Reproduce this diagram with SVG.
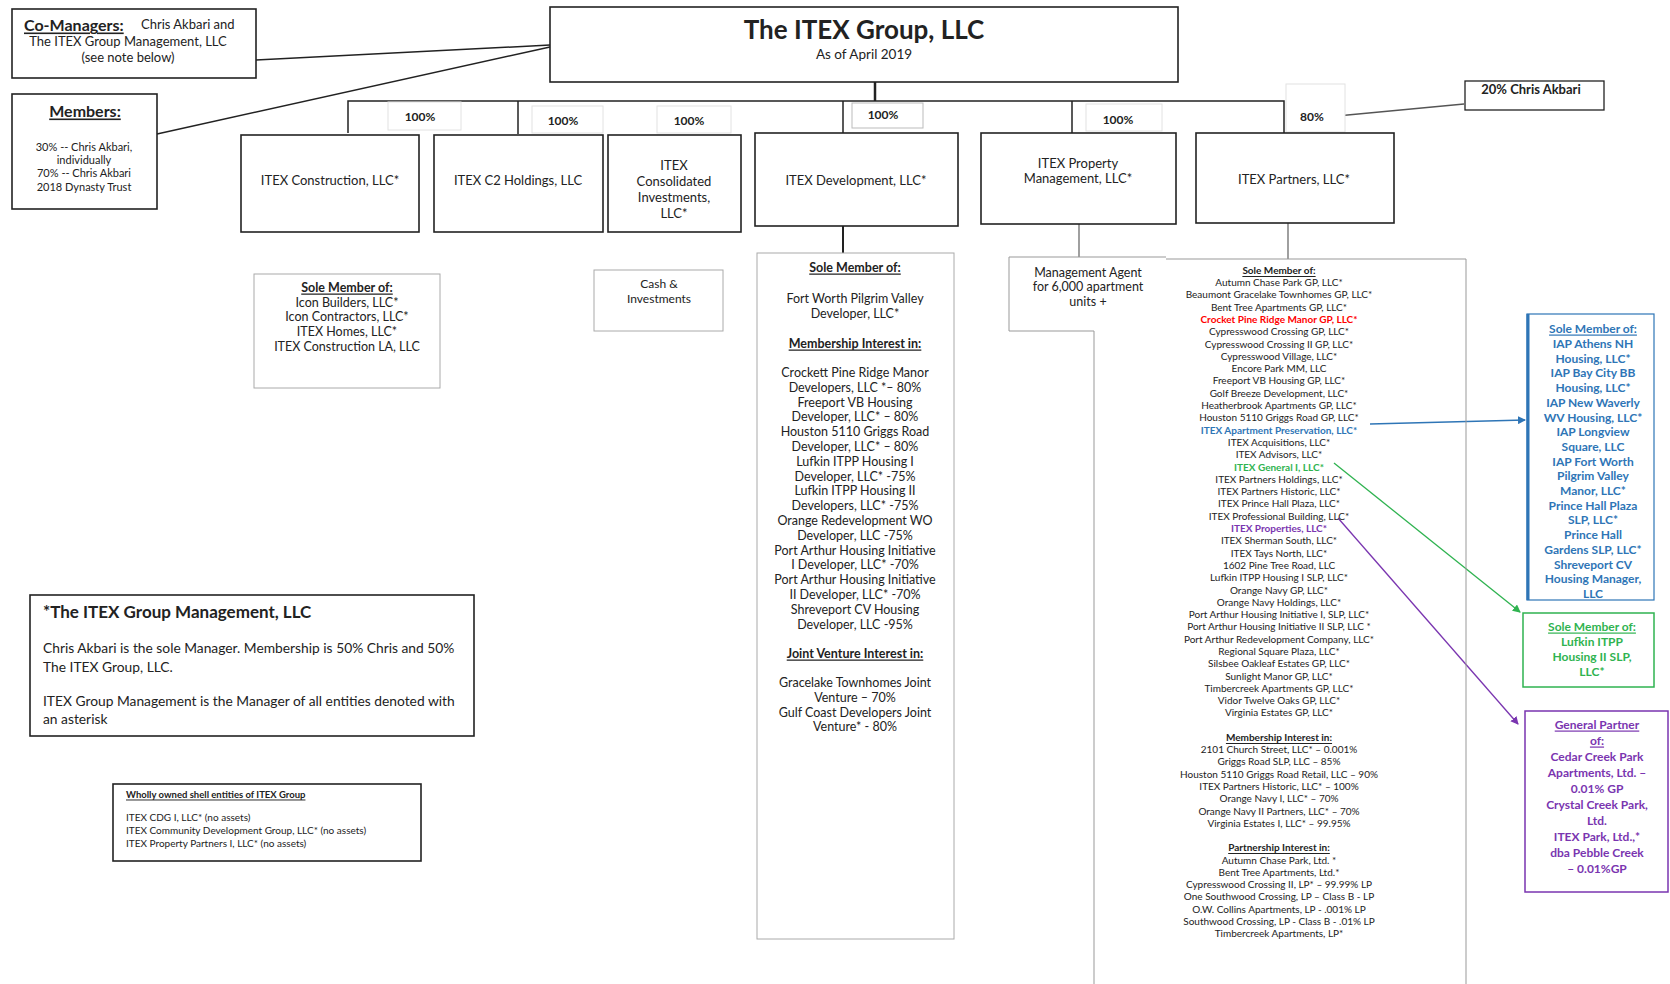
<svg xmlns="http://www.w3.org/2000/svg" width="1670" height="984" viewBox="0 0 1670 984">
<style>
text{font-family:Lato,'Liberation Sans',sans-serif;fill:#222;dominant-baseline:central}
.box{fill:#fff;stroke:#222;stroke-width:1.6}
.sub{fill:#fff;stroke:#aaa;stroke-width:1}
.lbl{fill:#fff;stroke:#e2e2e2;stroke-width:1}
.conn{stroke:#222;stroke-width:1.5;fill:none}
.gline{stroke:#999;stroke-width:1;fill:none}
.c{text-anchor:middle}
.t{font-size:13px}
.pct{font-size:12px;font-weight:bold}
.h{font-weight:bold;text-decoration:underline}
.dev{font-size:12.5px}
.col{font-size:10px}
.blue{fill:#2e75b6;font-weight:bold;font-size:12px}
.green{fill:#2fb350;font-weight:bold;font-size:12px}
.purple{fill:#7a35b0;font-weight:bold;font-size:12px}
</style>
<defs>
<marker id="ab" markerWidth="8" markerHeight="8" refX="7" refY="4" orient="auto" markerUnits="userSpaceOnUse"><path d="M0,0 L8,4 L0,8 Z" fill="#2e75b6"/></marker>
<marker id="ag" markerWidth="8" markerHeight="8" refX="7" refY="4" orient="auto" markerUnits="userSpaceOnUse"><path d="M0,0 L8,4 L0,8 Z" fill="#2fb350"/></marker>
<marker id="ap" markerWidth="8" markerHeight="8" refX="7" refY="4" orient="auto" markerUnits="userSpaceOnUse"><path d="M0,0 L8,4 L0,8 Z" fill="#7a35b0"/></marker>
</defs>

<g id="connectors">
<line class="conn" x1="256" y1="60" x2="550" y2="45"/>
<line class="conn" x1="157" y1="134" x2="550" y2="47"/>
<line class="conn" x1="875" y1="82" x2="875" y2="101" style="stroke-width:2.5"/>
<polyline class="conn" points="348,133 348,101 1284,101 1284,133"/>
<line class="conn" x1="518" y1="101" x2="518" y2="134"/>
<line class="conn" x1="843" y1="101" x2="843" y2="133"/>
<line class="conn" x1="1072" y1="101" x2="1072" y2="133"/>
<line class="conn" x1="843" y1="226" x2="843" y2="253" style="stroke-width:2"/>
<line class="gline" x1="1079" y1="224" x2="1079" y2="257" style="stroke-width:1.6;stroke:#888"/>
<line class="gline" x1="1288" y1="223" x2="1288" y2="259" style="stroke-width:1.6;stroke:#888"/>
<line x1="1337" y1="116" x2="1464" y2="104" style="stroke:#555;stroke-width:1.4"/>
<line x1="1370" y1="424" x2="1525" y2="420" stroke="#2e75b6" stroke-width="1.3" marker-end="url(#ab)"/>
<line x1="1334" y1="463" x2="1520" y2="612" stroke="#2fb350" stroke-width="1.3" marker-end="url(#ag)"/>
<line x1="1338" y1="518" x2="1518" y2="724" stroke="#7a35b0" stroke-width="1.3" marker-end="url(#ap)"/>
</g>

<g id="co-managers">
<rect class="box" x="12" y="9" width="244" height="69"/>
<text x="24" y="24" font-size="16px" class="h">Co-Managers:</text>
<text x="141" y="24" font-size="13px">Chris Akbari and</text>
<text x="128" y="41" class="c" font-size="13px">The ITEX Group Management, LLC</text>
<text x="128" y="57" class="c" font-size="13px">(see note below)</text>
</g>

<g id="members">
<rect class="box" x="12" y="94" width="145" height="115"/>
<text x="85" y="110" class="c h" font-size="16px">Members:</text>
<text x="84" y="146" class="c" font-size="11px">30% -- Chris Akbari,</text>
<text x="84" y="159" class="c" font-size="11px">individually</text>
<text x="84" y="172" class="c" font-size="11px">70% -- Chris Akbari</text>
<text x="84" y="186" class="c" font-size="11px">2018 Dynasty Trust</text>
</g>

<g id="itex-group">
<rect class="box" x="550" y="7" width="628" height="75"/>
<text x="864" y="29" class="c" font-size="26px" font-weight="bold">The ITEX Group, LLC</text>
<text x="864" y="54" class="c" font-size="13.5px">As of April 2019</text>
</g>

<g id="pct-labels">
<rect class="lbl" x="388" y="102" width="73" height="28"/>
<text x="420" y="116" class="c pct">100%</text>
<rect class="lbl" x="532" y="106" width="71" height="27"/>
<text x="563" y="120" class="c pct">100%</text>
<rect class="lbl" x="657" y="106" width="74" height="27"/>
<text x="689" y="120" class="c pct">100%</text>
<rect class="sub" x="852" y="103" width="71" height="25" style="stroke:#bbb"/>
<text x="883" y="114" class="c pct">100%</text>
<rect class="lbl" x="1086" y="104" width="76" height="27"/>
<text x="1118" y="119" class="c pct">100%</text>
<rect class="lbl" x="1286" y="84" width="59" height="48"/>
<text x="1312" y="116" class="c pct">80%</text>
</g>

<g id="chris-20">
<rect class="box" x="1465" y="81" width="139" height="29" style="stroke-width:1.3"/>
<text x="1531" y="89" class="c" font-size="13px" font-weight="bold">20% Chris Akbari</text>
</g>

<g id="itex-construction">
<rect class="box" x="241" y="135" width="178" height="97"/>
<text x="330" y="180" class="c t">ITEX Construction, LLC*</text>
</g>
<g id="itex-c2">
<rect class="box" x="434" y="135" width="169" height="97"/>
<text x="518" y="180" class="c t">ITEX C2 Holdings, LLC</text>
</g>
<g id="itex-consolidated">
<rect class="box" x="608" y="135" width="133" height="97"/>
<text x="674" y="165" class="c t">ITEX</text>
<text x="674" y="181" class="c t">Consolidated</text>
<text x="674" y="197" class="c t">Investments,</text>
<text x="674" y="213" class="c t">LLC*</text>
</g>
<g id="itex-development">
<rect class="box" x="755" y="133" width="203" height="93"/>
<text x="856" y="180" class="c t">ITEX Development, LLC*</text>
</g>
<g id="itex-property">
<rect class="box" x="981" y="133" width="195" height="91"/>
<text x="1078" y="163" class="c t">ITEX Property</text>
<text x="1078" y="178" class="c t">Management, LLC*</text>
</g>
<g id="itex-partners">
<rect class="box" x="1196" y="133" width="198" height="90"/>
<text x="1294" y="179" class="c t">ITEX Partners, LLC*</text>
</g>

<g id="construction-members">
<rect class="sub" x="254" y="274" width="186" height="114"/>
<text x="347" y="287" class="c h" font-size="12.5px">Sole Member of:</text>
<text x="347" y="302" class="c" font-size="12.5px">Icon Builders, LLC*</text>
<text x="347" y="316" class="c" font-size="12.5px">Icon Contractors, LLC*</text>
<text x="347" y="331" class="c" font-size="12.5px">ITEX Homes, LLC*</text>
<text x="347" y="346" class="c" font-size="12.5px">ITEX Construction LA, LLC</text>
</g>

<g id="cash">
<rect class="sub" x="594" y="270" width="129" height="61"/>
<text x="659" y="283" class="c" font-size="12px">Cash &amp;</text>
<text x="659" y="298" class="c" font-size="12px">Investments</text>
</g>

<g id="development-interests">
<rect class="sub" x="757" y="253" width="197" height="686"/>
<text x="855" y="267" class="c dev h">Sole Member of:</text>
<text x="855" y="298" class="c dev">Fort Worth Pilgrim Valley</text>
<text x="855" y="313" class="c dev">Developer, LLC*</text>
<text x="855" y="343" class="c dev h">Membership Interest in:</text>
<text class="c dev"><tspan x="855" y="372">Crockett Pine Ridge Manor</tspan><tspan x="855" dy="14.8">Developers, LLC *– 80%</tspan><tspan x="855" dy="14.8">Freeport VB Housing</tspan><tspan x="855" dy="14.8">Developer, LLC* – 80%</tspan><tspan x="855" dy="14.8">Houston 5110 Griggs Road</tspan><tspan x="855" dy="14.8">Developer, LLC* – 80%</tspan><tspan x="855" dy="14.8">Lufkin ITPP Housing I</tspan><tspan x="855" dy="14.8">Developer, LLC* -75%</tspan><tspan x="855" dy="14.8">Lufkin ITPP Housing II</tspan><tspan x="855" dy="14.8">Developers, LLC* -75%</tspan><tspan x="855" dy="14.8">Orange Redevelopment WO</tspan><tspan x="855" dy="14.8">Developer, LLC -75%</tspan><tspan x="855" dy="14.8">Port Arthur Housing Initiative</tspan><tspan x="855" dy="14.8">I Developer, LLC* -70%</tspan><tspan x="855" dy="14.8">Port Arthur Housing Initiative</tspan><tspan x="855" dy="14.8">II Developer, LLC* -70%</tspan><tspan x="855" dy="14.8">Shreveport CV Housing</tspan><tspan x="855" dy="14.8">Developer, LLC -95%</tspan></text>
<text x="855" y="653" class="c dev h">Joint Venture Interest in:</text>
<text class="c dev"><tspan x="855" y="682">Gracelake Townhomes Joint</tspan><tspan x="855" dy="14.8">Venture – 70%</tspan><tspan x="855" dy="14.8">Gulf Coast Developers Joint</tspan><tspan x="855" dy="14.8">Venture* - 80%</tspan></text>
</g>

<g id="partners-interests">
<path class="gline" d="M1166,259 H1466 V984"/>
<path class="gline" d="M1094,331 V984"/>
<text x="1279" y="270" class="c col h">Sole Member of:</text>
<text class="c col"><tspan x="1279" y="282">Autumn Chase Park GP, LLC*</tspan><tspan x="1279" dy="12.3">Beaumont Gracelake Townhomes GP, LLC*</tspan><tspan x="1279" dy="12.3">Bent Tree Apartments GP, LLC*</tspan><tspan x="1279" dy="12.3" fill="#ff0000" font-weight="bold">Crocket Pine Ridge Manor GP, LLC*</tspan><tspan x="1279" dy="12.3">Cypresswood Crossing GP, LLC*</tspan><tspan x="1279" dy="12.3">Cypresswood Crossing II GP, LLC*</tspan><tspan x="1279" dy="12.3">Cypresswood Village, LLC*</tspan><tspan x="1279" dy="12.3">Encore Park MM, LLC</tspan><tspan x="1279" dy="12.3">Freeport VB Housing GP, LLC*</tspan><tspan x="1279" dy="12.3">Golf Breeze Development, LLC*</tspan><tspan x="1279" dy="12.3">Heatherbrook Apartments GP, LLC*</tspan><tspan x="1279" dy="12.3">Houston 5110 Griggs Road GP, LLC*</tspan><tspan x="1279" dy="12.3" fill="#2e75b6" font-weight="bold">ITEX Apartment Preservation, LLC*</tspan><tspan x="1279" dy="12.3">ITEX Acquisitions, LLC*</tspan><tspan x="1279" dy="12.3">ITEX Advisors, LLC*</tspan><tspan x="1279" dy="12.3" fill="#2fb350" font-weight="bold">ITEX General I, LLC*</tspan><tspan x="1279" dy="12.3">ITEX Partners Holdings, LLC*</tspan><tspan x="1279" dy="12.3">ITEX Partners Historic, LLC*</tspan><tspan x="1279" dy="12.3">ITEX Prince Hall Plaza, LLC*</tspan><tspan x="1279" dy="12.3">ITEX Professional Building, LLC*</tspan><tspan x="1279" dy="12.3" fill="#7a35b0" font-weight="bold">ITEX Properties, LLC*</tspan><tspan x="1279" dy="12.3">ITEX Sherman South, LLC*</tspan><tspan x="1279" dy="12.3">ITEX Tays North, LLC*</tspan><tspan x="1279" dy="12.3">1602 Pine Tree Road, LLC</tspan><tspan x="1279" dy="12.3">Lufkin ITPP Housing I SLP, LLC*</tspan><tspan x="1279" dy="12.3">Orange Navy GP, LLC*</tspan><tspan x="1279" dy="12.3">Orange Navy Holdings, LLC*</tspan><tspan x="1279" dy="12.3">Port Arthur Housing Initiative I, SLP, LLC*</tspan><tspan x="1279" dy="12.3">Port Arthur Housing Initiative II SLP, LLC *</tspan><tspan x="1279" dy="12.3">Port Arthur Redevelopment Company, LLC*</tspan><tspan x="1279" dy="12.3">Regional Square Plaza, LLC*</tspan><tspan x="1279" dy="12.3">Silsbee Oakleaf Estates GP, LLC*</tspan><tspan x="1279" dy="12.3">Sunlight Manor GP, LLC*</tspan><tspan x="1279" dy="12.3">Timbercreek Apartments GP, LLC*</tspan><tspan x="1279" dy="12.3">Vidor Twelve Oaks GP, LLC*</tspan><tspan x="1279" dy="12.3">Virginia Estates GP, LLC*</tspan></text>
<text x="1279" y="737" class="c col h">Membership Interest in:</text>
<text class="c col"><tspan x="1279" y="749">2101 Church Street, LLC* – 0.001%</tspan><tspan x="1279" dy="12.3">Griggs Road SLP, LLC – 85%</tspan><tspan x="1279" dy="12.3">Houston 5110 Griggs Road Retail, LLC – 90%</tspan><tspan x="1279" dy="12.3">ITEX Partners Historic, LLC* – 100%</tspan><tspan x="1279" dy="12.3">Orange Navy I, LLC* – 70%</tspan><tspan x="1279" dy="12.3">Orange Navy II Partners, LLC* – 70%</tspan><tspan x="1279" dy="12.3">Virginia Estates I, LLC* – 99.95%</tspan></text>
<text x="1279" y="847" class="c col h">Partnership Interest in:</text>
<text class="c col"><tspan x="1279" y="859.5">Autumn Chase Park, Ltd. *</tspan><tspan x="1279" dy="12.3">Bent Tree Apartments, Ltd.*</tspan><tspan x="1279" dy="12.3">Cypresswood Crossing II, LP* – 99.99% LP</tspan><tspan x="1279" dy="12.3">One Southwood Crossing, LP – Class B - LP</tspan><tspan x="1279" dy="12.3">O.W. Collins Apartments, LP - .001% LP</tspan><tspan x="1279" dy="12.3">Southwood Crossing, LP - Class B - .01% LP</tspan><tspan x="1279" dy="12.3">Timbercreek Apartments, LP*</tspan></text>
</g>

<g id="management-agent">
<rect x="1009" y="257" width="85" height="74" fill="#fff"/>
<path class="gline" d="M1166,257 H1009 V331 H1094"/>
<text x="1088" y="272" class="c" font-size="12.5px">Management Agent</text>
<text x="1088" y="286" class="c" font-size="12.5px">for 6,000 apartment</text>
<text x="1088" y="301" class="c" font-size="12.5px">units +</text>
</g>

<g id="apt-preservation-box">
<rect x="1527" y="314" width="127" height="286" fill="#fff" stroke="#2e75b6" stroke-width="1.2"/>
<line x1="1528" y1="314" x2="1528" y2="600" stroke="#2e75b6" stroke-width="3"/>
<text x="1593" y="328" class="c blue" text-decoration="underline">Sole Member of:</text>
<text class="c blue"><tspan x="1593" y="343">IAP Athens NH</tspan><tspan x="1593" dy="14.7">Housing, LLC*</tspan><tspan x="1593" dy="14.7">IAP Bay City BB</tspan><tspan x="1593" dy="14.7">Housing, LLC*</tspan><tspan x="1593" dy="14.7">IAP New Waverly</tspan><tspan x="1593" dy="14.7">WV Housing, LLC*</tspan><tspan x="1593" dy="14.7">IAP Longview</tspan><tspan x="1593" dy="14.7">Square, LLC</tspan><tspan x="1593" dy="14.7">IAP Fort Worth</tspan><tspan x="1593" dy="14.7">Pilgrim Valley</tspan><tspan x="1593" dy="14.7">Manor, LLC*</tspan><tspan x="1593" dy="14.7">Prince Hall Plaza</tspan><tspan x="1593" dy="14.7">SLP, LLC*</tspan><tspan x="1593" dy="14.7">Prince Hall</tspan><tspan x="1593" dy="14.7">Gardens SLP, LLC*</tspan><tspan x="1593" dy="14.7">Shreveport CV</tspan><tspan x="1593" dy="14.7">Housing Manager,</tspan><tspan x="1593" dy="14.7">LLC</tspan></text>
</g>

<g id="general-i-box">
<rect x="1523" y="613" width="131" height="74" fill="#fff" stroke="#2fb350" stroke-width="1.5"/>
<text x="1592" y="626" class="c green" text-decoration="underline">Sole Member of:</text>
<text x="1592" y="641" class="c green">Lufkin ITPP</text>
<text x="1592" y="656" class="c green">Housing II SLP,</text>
<text x="1592" y="671" class="c green">LLC*</text>
</g>

<g id="properties-box">
<rect x="1525" y="711" width="143" height="181" fill="#fff" stroke="#7a35b0" stroke-width="1.5"/>
<text x="1597" y="724" class="c purple" text-decoration="underline">General Partner</text>
<text x="1597" y="740" class="c purple" text-decoration="underline">of:</text>
<text class="c purple"><tspan x="1597" y="756">Cedar Creek Park</tspan><tspan x="1597" dy="16">Apartments, Ltd. –</tspan><tspan x="1597" dy="16">0.01% GP</tspan><tspan x="1597" dy="16">Crystal Creek Park,</tspan><tspan x="1597" dy="16">Ltd.</tspan><tspan x="1597" dy="16">ITEX Park, Ltd.,*</tspan><tspan x="1597" dy="16">dba Pebble Creek</tspan><tspan x="1597" dy="16">– 0.01%GP</tspan></text>
</g>

<g id="management-note">
<rect class="box" x="30" y="595" width="444" height="141"/>
<text x="43" y="611" font-size="17px" font-weight="bold">*The ITEX Group Management, LLC</text>
<text x="43" y="647" font-size="13.8px">Chris Akbari is the sole Manager.  Membership is 50% Chris and 50%</text>
<text x="43" y="666" font-size="13.8px">The ITEX Group, LLC.</text>
<text x="43" y="700" font-size="13.8px">ITEX Group Management is the Manager of all entities denoted with</text>
<text x="43" y="718" font-size="13.8px">an asterisk</text>
</g>

<g id="shell-entities">
<rect class="box" x="113" y="784" width="308" height="77"/>
<text x="126" y="794" font-size="9.5px" class="h">Wholly owned shell entities of ITEX Group</text>
<text x="126" y="817" font-size="10px">ITEX CDG I, LLC* (no assets)</text>
<text x="126" y="830" font-size="10px">ITEX Community Development Group, LLC* (no assets)</text>
<text x="126" y="843" font-size="10px">ITEX Property Partners I, LLC* (no assets)</text>
</g>
</svg>
